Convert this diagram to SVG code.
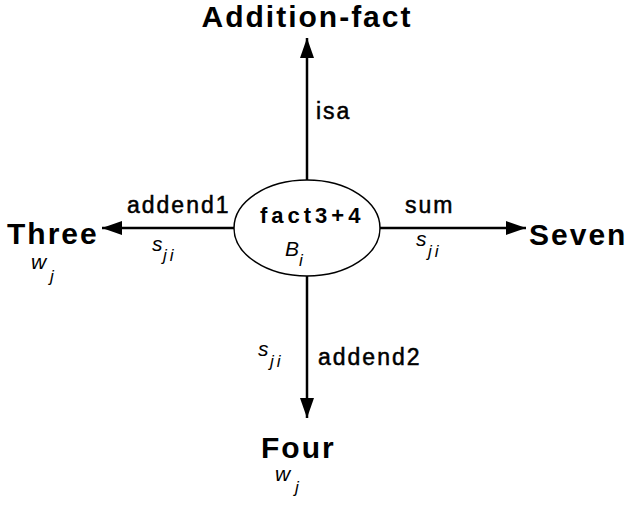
<svg xmlns="http://www.w3.org/2000/svg" width="627" height="506" viewBox="0 0 627 506">
<defs>
<marker id="arr" markerWidth="20" markerHeight="14" refX="20" refY="7" orient="auto" markerUnits="userSpaceOnUse">
<path d="M0,0 L20,7 L0,14 Z" fill="#000"/>
</marker>
<style>
.node{font-family:"Liberation Sans",Arial,sans-serif;font-weight:bold;font-size:30px;fill:#000;letter-spacing:2px}
.lbl{font-family:"Liberation Sans",Arial,sans-serif;font-size:23px;fill:#000;stroke:#000;stroke-width:0.5;letter-spacing:2px}
.var{font-family:"Liberation Sans",Arial,sans-serif;font-style:italic;font-size:21px;fill:#000}
.sub{font-family:"Liberation Sans",Arial,sans-serif;font-style:italic;font-size:17px;fill:#000;letter-spacing:3px}
.edge{stroke:#000;stroke-width:2.5;fill:none}
</style>
</defs>
<g id="connectors">
<line class="edge" x1="307" y1="180" x2="307" y2="38" marker-end="url(#arr)"/>
<line class="edge" x1="234" y1="228" x2="102" y2="228" marker-end="url(#arr)"/>
<line class="edge" x1="380" y1="228" x2="526" y2="228" marker-end="url(#arr)"/>
<line class="edge" x1="307" y1="276" x2="307" y2="418" marker-end="url(#arr)"/>
<text class="lbl" x="316" y="119" letter-spacing="4">isa</text>
<text class="lbl" x="127" y="213">addend1</text>
<text class="lbl" x="405" y="213">sum</text>
<text class="lbl" x="318" y="365">addend2</text>
<text class="var" x="152" y="251">s</text><text class="sub" x="163" y="261">ji</text>
<text class="var" x="416" y="246">s</text><text class="sub" x="428" y="257">ji</text>
<text class="var" x="258" y="356">s</text><text class="sub" x="270" y="367">ji</text>
</g>
<g id="fact">
<ellipse cx="307" cy="228" rx="73" ry="48" fill="#fff" stroke="#000" stroke-width="1.5"/>
<text x="260" y="223" font-family="Liberation Sans,Arial,sans-serif" font-weight="bold" font-size="22" letter-spacing="4">fact3+4</text>
<text class="var" x="285" y="256">B</text><text class="sub" x="299" y="266">i</text>
</g>
<g id="addition-fact"><text class="node" x="307" y="27" text-anchor="middle" letter-spacing="1">Addition-fact</text></g>
<g id="three"><text class="node" x="7" y="244">Three</text><text class="var" x="31" y="269">w</text><text class="sub" x="50" y="282">j</text></g>
<g id="seven"><text class="node" x="529" y="245">Seven</text></g>
<g id="four"><text class="node" x="261" y="458">Four</text><text class="var" x="275" y="481">w</text><text class="sub" x="295" y="493">j</text></g>
</svg>
